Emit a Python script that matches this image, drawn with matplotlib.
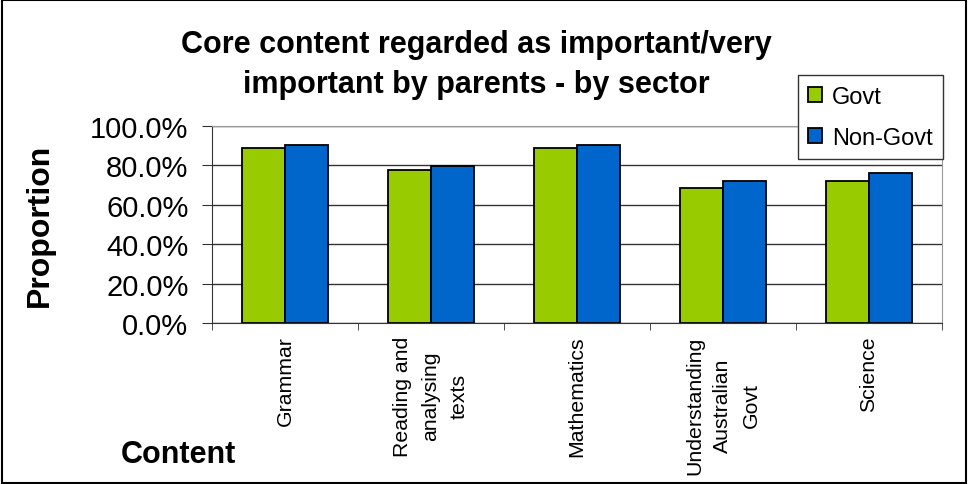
import matplotlib.pyplot as plt
import numpy as np
from matplotlib.patches import Rectangle

plt.rcParams['font.family'] = ['Liberation Sans', 'DejaVu Sans']

categories = ['Grammar', 'Reading and\nanalysing\ntexts', 'Mathematics',
              'Understanding\nAustralian\nGovt', 'Science']
govt = [0.89, 0.778, 0.89, 0.687, 0.719]
non_govt = [0.902, 0.799, 0.902, 0.719, 0.76]
y_ticks = [0.0, 0.2, 0.4, 0.6, 0.8, 1.0]

fig = plt.figure(figsize=(9.68, 4.85), dpi=100)
ax = fig.add_axes([0.219, 0.332, 0.754, 0.406])

x = np.arange(len(categories))
w = 0.294
ax.bar(x - w / 2, govt, w, color='#99cc00', edgecolor='black', linewidth=1.3,
       label='Govt', zorder=3)
ax.bar(x + w / 2, non_govt, w, color='#0066cc', edgecolor='black', linewidth=1.3,
       label='Non-Govt', zorder=3)

ax.set_xlim(-0.5, len(categories) - 0.5)
ax.set_ylim(0, 1.0)
ax.set_yticks(y_ticks)
ax.set_yticklabels([f'{v * 100:.1f}%' for v in y_ticks], fontsize=21)
ax.yaxis.grid(True, color='#333333', linewidth=1)
ax.set_axisbelow(True)

# category labels centred, ticks at category boundaries
ax.set_xticks(x)
ax.set_xticklabels(categories, rotation=90, fontsize=15.3, ha='center', va='top',
                   multialignment='center', linespacing=1.6)
ax.tick_params(axis='x', length=0, pad=9)
ax.set_xticks(np.arange(len(categories) + 1) - 0.5, minor=True)
ax.tick_params(axis='x', which='minor', length=5, color='#333333')
ax.tick_params(axis='y', length=7, color='#333333', pad=10)

for s in ['top', 'right']:
    ax.spines[s].set_color('#999999')
ax.spines['left'].set_color('#333333')
ax.spines['bottom'].set_color('#333333')

fig.text(0.492, 0.866, 'Core content regarded as important/very\nimportant by parents - by sector',
         ha='center', va='center', fontsize=22, fontweight='bold', linespacing=1.4)
fig.text(0.041, 0.536, 'Proportion', rotation=90, ha='center', va='center',
         fontsize=23, fontweight='bold')
fig.text(0.184, 0.062, 'Content', ha='center', va='center', fontsize=22, fontweight='bold')

leg = ax.legend(loc='upper left', bbox_to_anchor=(0.824, 0.843),
                bbox_transform=fig.transFigure, fontsize=17,
                frameon=True, fancybox=False, edgecolor='#333333', framealpha=1,
                handlelength=0.6, handleheight=0.6, handletextpad=0.4,
                borderpad=0.45, labelspacing=0.8, borderaxespad=0)
leg.get_frame().set_linewidth(1)

# outer border
fig.patches.append(Rectangle((0.002, 0.003), 0.996, 0.994, transform=fig.transFigure,
                             fill=False, edgecolor='black', linewidth=1.5))

fig.savefig('out.png', dpi=100)
